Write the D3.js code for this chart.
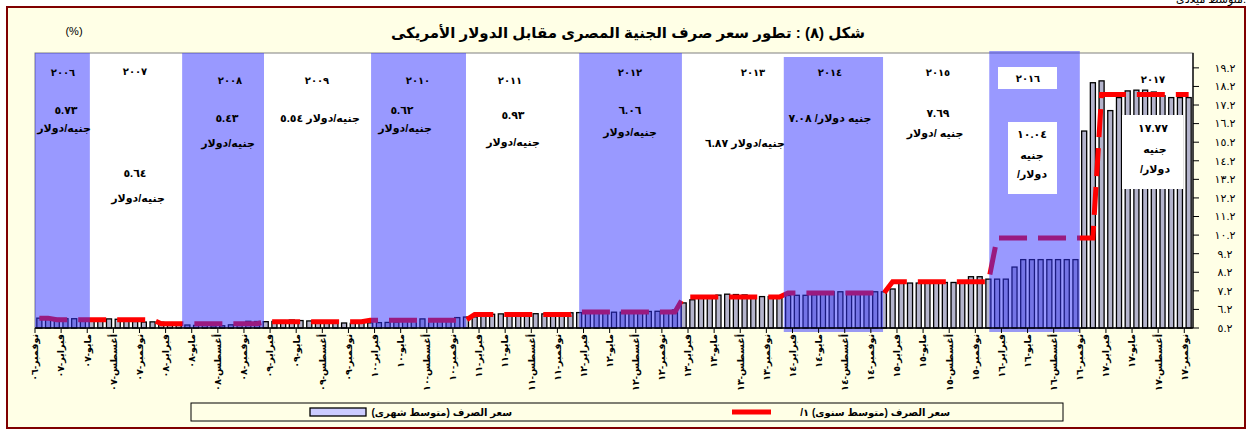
<!DOCTYPE html>
<html>
<head>
<meta charset="utf-8">
<script src="https://cdn.jsdelivr.net/npm/d3@7"></script>
<style>
  body { margin: 0; background: #ffffff; }
  text { font-family: Arial, "DejaVu Sans", sans-serif; }
</style>
</head>
<body>
<div class="chart"></div>
<script>
/* Global Constants
============================================= */
const SVG_WIDTH = 1248;
const SVG_HEIGHT = 432;

// monthly average exchange rate (EGP per USD), Nov-06 .. Nov-17
const rate2006 = [5.73, 5.72];
const rate2007 = [5.71, 5.70, 5.70, 5.69, 5.68, 5.69, 5.69, 5.67, 5.60, 5.55, 5.52, 5.53];
const rate2008 = [5.51, 5.49, 5.45, 5.36, 5.34, 5.34, 5.32, 5.32, 5.37, 5.45, 5.56, 5.55];
const rate2009 = [5.54, 5.55, 5.60, 5.63, 5.60, 5.58, 5.56, 5.54, 5.52, 5.47, 5.45, 5.48];
const rate2010 = [5.48, 5.49, 5.50, 5.52, 5.58, 5.67, 5.69, 5.69, 5.69, 5.70, 5.76, 5.79];
const rate2011 = [5.80, 5.86, 5.94, 5.96, 5.94, 5.94, 5.95, 5.97, 5.96, 5.97, 6.00, 6.02];
const rate2012 = [6.03, 6.03, 6.04, 6.04, 6.05, 6.05, 6.07, 6.09, 6.09, 6.10, 6.10, 6.17];
const rate2013 = [6.55, 6.72, 6.80, 6.89, 6.97, 7.02, 7.00, 6.98, 6.89, 6.89, 6.89, 6.93];
const rate2014 = [6.95, 6.96, 6.96, 6.99, 7.10, 7.15, 7.15, 7.15, 7.15, 7.15, 7.15, 7.15];
const rate2015 = [7.30, 7.62, 7.62, 7.62, 7.62, 7.62, 7.65, 7.65, 7.65, 7.96, 7.96, 7.83];
const rate2016 = [7.83, 7.83, 8.48, 8.88, 8.88, 8.88, 8.88, 8.88, 8.88, 8.88, 15.80, 18.40];
const rate2017 = [18.50, 16.90, 17.60, 17.96, 18.00, 18.00, 17.90, 17.70, 17.60, 17.60, 17.60];

// yearly average (annual line series)
const yearAvg = [5.73, 5.64, 5.43, 5.54, 5.62, 5.93, 6.06, 6.87, 7.08, 7.69, 10.04, 17.77];

// x tick labels, one every 3 months
const tickLabels = [
    "نوفمبر-٠٦", "فبراير-٠٧", "مايو-٠٧", "أغسطس-٠٧", "نوفمبر-٠٧",
    "فبراير-٠٨", "مايو-٠٨", "أغسطس-٠٨", "نوفمبر-٠٨",
    "فبراير-٠٩", "مايو-٠٩", "أغسطس-٠٩", "نوفمبر-٠٩",
    "فبراير-١٠", "مايو-١٠", "أغسطس-١٠", "نوفمبر-١٠",
    "فبراير-١١", "مايو-١١", "أغسطس-١١", "نوفمبر-١١",
    "فبراير-١٢", "مايو-١٢", "أغسطس-١٢", "نوفمبر-١٢",
    "فبراير-١٣", "مايو-١٣", "أغسطس-١٣", "نوفمبر-١٣",
    "فبراير-١٤", "مايو-١٤", "أغسطس-١٤", "نوفمبر-١٤",
    "فبراير-١٥", "مايو-١٥", "أغسطس-١٥", "نوفمبر-١٥",
    "فبراير-١٦", "مايو-١٦", "أغسطس-١٦", "نوفمبر-١٦",
    "فبراير-١٧", "مايو-١٧", "أغسطس-١٧", "نوفمبر-١٧"
];

// y tick values and labels
const yTicks = [5.2, 6.2, 7.2, 8.2, 9.2, 10.2, 11.2, 12.2, 13.2, 14.2, 15.2, 16.2, 17.2, 18.2, 19.2];
const yTickLabels = ["٥.٢", "٦.٢", "٧.٢", "٨.٢", "٩.٢", "١٠.٢", "١١.٢", "١٢.٢", "١٣.٢", "١٤.٢", "١٥.٢", "١٦.٢", "١٧.٢", "١٨.٢", "١٩.٢"];

const textTitle = "شكل (٨) : تطور سعر صرف الجنية المصرى مقابل الدولار الأمريكى";
const textMonthly = "سعر الصرف (متوسط شهرى)";
const textYearly = "سعر الصرف (متوسط سنوى) ١/";
const textUnit = "جنيه/دولار";

/* Layout
============================================= */
var margin = { top: 53, left: 35, right: 55, bottom: 104 };
var plotW = SVG_WIDTH - margin.left - margin.right;
var plotH = SVG_HEIGHT - margin.top - margin.bottom;

// shaded year panels, edges in month units (drawn by hand in the original)
var panelEdges = [0, 6.3, 16.9, 26.3, 38.6, 49.5, 62.5, 74.3, 86.0, 97.4, 109.6, 120, 133];

// annotations: [x, y, text, size]
var notes = [
    [63, 72, "٢٠٠٦", 10], [66, 110, "٥.٧٣", 11], [64, 128, textUnit, 11],
    [135, 71, "٢٠٠٧", 10], [135, 173, "٥.٦٤", 11], [138, 198, textUnit, 11],
    [230, 80, "٢٠٠٨", 10], [227, 118, "٥.٤٣", 11], [228, 143, textUnit, 11],
    [317, 80, "٢٠٠٩", 10], [320, 118, textUnit + " ٥.٥٤", 11],
    [418, 80, "٢٠١٠", 10], [402, 110, "٥.٦٢", 11], [405, 128, textUnit, 11],
    [510, 80, "٢٠١١", 10], [513, 115, "٥.٩٣", 11], [513, 142, textUnit, 11],
    [630, 72, "٢٠١٢", 10], [630, 110, "٦.٠٦", 11], [630, 132, textUnit, 11],
    [753, 72, "٢٠١٣", 10], [745, 143, textUnit + " ٦.٨٧", 11],
    [830, 72, "٢٠١٤", 10], [830, 118, "جنيه دولار/ ٧.٠٨", 11],
    [938, 72, "٢٠١٥", 10], [938, 113, "٧.٦٩", 11], [935, 133, "جنيه /دولار", 11],
    [1153, 79, "٢٠١٧", 10]
];

// white text boxes: [x, y, w, h]
var boxes = [[998, 67, 59, 22], [1008, 122, 49, 72], [1122, 115, 61, 74]];
var boxNotes = [
    [1028, 78, "٢٠١٦", 10], [1032, 134, "١٠.٠٤", 11], [1032, 155, "جنيه", 11], [1032, 174, "دولار/", 11],
    [1153, 128, "١٧.٧٧", 11], [1155, 149, "جنيه", 11], [1155, 169, "دولار/", 11]
];

/* Data prep
============================================= */
var yearly = [rate2006, rate2007, rate2008, rate2009, rate2010, rate2011,
              rate2012, rate2013, rate2014, rate2015, rate2016, rate2017];

var DATASET = [];
yearly.forEach(function(arr, y) {
    arr.forEach(function(v) {
        DATASET.push({ i: DATASET.length, rate: v, avg: yearAvg[y] });
    });
});

/* Chart
============================================= */
var svg = d3.select(".chart")
    .append("svg")
    .attr("width", SVG_WIDTH)
    .attr("height", SVG_HEIGHT);

// outer frame
svg.append("rect")
    .attr("x", 7).attr("y", 7)
    .attr("width", 1238).attr("height", 421)
    .attr("fill", "#FFFFE6")
    .attr("stroke", "#800000")
    .attr("stroke-width", 2);

svg.append("text")
    .attr("x", 1246).attr("y", 3)
    .attr("text-anchor", "end")
    .attr("font-size", 11)
    .text("متوسط ميلادى.");

svg.append("text")
    .attr("x", 628).attr("y", 33)
    .attr("text-anchor", "middle")
    .attr("direction", "rtl")
    .attr("dy", "0.35em")
    .attr("font-size", 15)
    .attr("font-weight", "bold")
    .text(textTitle);

svg.append("text")
    .attr("x", 74).attr("y", 31)
    .attr("text-anchor", "middle")
    .attr("dy", "0.35em")
    .attr("font-size", 11)
    .text("(%)");

var chart = svg.append("g")
    .attr("transform", `translate(${margin.left}, ${margin.top})`);

chart.append("rect")
    .attr("width", plotW).attr("height", plotH)
    .attr("fill", "#ffffff")
    .attr("stroke", "#808080");

var xBand = d3.scaleBand()
    .domain(DATASET.map(function(d) { return d.i; }))
    .range([0, plotW])
    .paddingInner(0.42)
    .paddingOuter(0.21);

var step = plotW / DATASET.length;
var xEdge = d3.scaleLinear().domain([0, DATASET.length]).range([0, plotW]);

var yLinearScale = d3.scaleLinear().domain([5.2, 20]).range([plotH, 0]);

// monthly bars
chart.append("g").selectAll("rect")
    .data(DATASET)
    .enter()
    .append("rect")
    .attr("x", function(d) { return xBand(d.i); })
    .attr("y", function(d) { return yLinearScale(d.rate); })
    .attr("width", xBand.bandwidth())
    .attr("height", function(d) { return plotH - yLinearScale(d.rate); })
    .attr("fill", "#B4B4CC")
    .attr("stroke", "#000000")
    .attr("stroke-width", 1.3);

// yearly average line
var line = d3.line()
    .x(function(d) { return xEdge(d.i + 0.5); })
    .y(function(d) { return yLinearScale(d.avg); });

chart.append("path")
    .datum(DATASET)
    .attr("d", line)
    .attr("fill", "none")
    .attr("stroke", "#FF0000")
    .attr("stroke-width", 5)
    .attr("stroke-dasharray", "28,11");

// shaded year panels laid over the bars
chart.append("g").selectAll("rect")
    .data(d3.range(0, panelEdges.length - 1, 2))
    .enter()
    .append("rect")
    .attr("x", function(k) { return xEdge(panelEdges[k]); })
    .attr("y", function(k) { return k === 10 ? -2 : (k === 8 ? 4 : 0); })
    .attr("width", function(k) { return xEdge(panelEdges[k + 1]) - xEdge(panelEdges[k]); })
    .attr("height", function(k) { return k === 10 || k === 8 ? plotH + 4 - (k === 8 ? 4 : -2) : plotH; })
    .attr("fill", "rgba(51, 51, 255, 0.5)");

// x axis
chart.append("line")
    .attr("x1", 0).attr("x2", plotW)
    .attr("y1", plotH).attr("y2", plotH)
    .attr("stroke", "#000").attr("stroke-width", 1.3);

var xTicks = chart.append("g").selectAll("g")
    .data(tickLabels)
    .enter()
    .append("g")
    .attr("transform", function(d, k) { return `translate(${xEdge(k * 3)}, ${plotH})`; });

xTicks.append("line")
    .attr("y2", 5)
    .attr("stroke", "#000");

xTicks.append("text")
    .attr("transform", "translate(0, 6) rotate(-90)")
    .attr("text-anchor", "end")
    .attr("dy", "0.35em")
    .attr("font-size", 9.5)
    .attr("font-weight", "bold")
    .text(function(d) { return d; });

// y axis (right)
chart.append("line")
    .attr("x1", plotW).attr("x2", plotW)
    .attr("y1", 0).attr("y2", plotH)
    .attr("stroke", "#000").attr("stroke-width", 1.3);

var yTickG = chart.append("g").selectAll("g")
    .data(yTicks)
    .enter()
    .append("g")
    .attr("transform", function(d) { return `translate(${plotW}, ${yLinearScale(d)})`; });

yTickG.append("line")
    .attr("x2", 6)
    .attr("stroke", "#000");

yTickG.append("text")
    .attr("x", 32)
    .attr("dy", "0.35em")
    .attr("text-anchor", "middle")
    .attr("font-size", 11)
    .text(function(d, k) { return yTickLabels[k]; });

// annotations
function drawNotes(list) {
    svg.append("g").selectAll("text")
        .data(list)
        .enter()
        .append("text")
        .attr("x", function(d) { return d[0]; })
        .attr("y", function(d) { return d[1]; })
        .attr("dy", "0.35em")
        .attr("text-anchor", "middle")
        .attr("direction", "rtl")
        .attr("font-size", function(d) { return d[3]; })
        .attr("font-weight", "bold")
        .text(function(d) { return d[2]; });
}

drawNotes(notes);

svg.append("g").selectAll("rect")
    .data(boxes)
    .enter()
    .append("rect")
    .attr("x", function(d) { return d[0]; })
    .attr("y", function(d) { return d[1]; })
    .attr("width", function(d) { return d[2]; })
    .attr("height", function(d) { return d[3]; })
    .attr("fill", "#ffffff");

drawNotes(boxNotes);

// legend
var legend = svg.append("g");

legend.append("rect")
    .attr("x", 191).attr("y", 403)
    .attr("width", 872).attr("height", 18)
    .attr("fill", "#FFFFE6")
    .attr("stroke", "#000");

legend.append("rect")
    .attr("x", 310).attr("y", 408)
    .attr("width", 56).attr("height", 8)
    .attr("fill", "#CCCCFF")
    .attr("stroke", "#000")
    .attr("stroke-width", 1.3);

legend.append("text")
    .attr("x", 512).attr("y", 412)
    .attr("dy", "0.35em")
    .attr("text-anchor", "end")
    .attr("font-size", 10)
    .attr("font-weight", "bold")
    .text(textMonthly);

legend.append("line")
    .attr("x1", 732).attr("x2", 771)
    .attr("y1", 412).attr("y2", 412)
    .attr("stroke", "#FF0000")
    .attr("stroke-width", 5);

legend.append("text")
    .attr("x", 950).attr("y", 412)
    .attr("dy", "0.35em")
    .attr("text-anchor", "start")
    .attr("direction", "rtl")
    .attr("font-size", 10)
    .attr("font-weight", "bold")
    .text(textYearly);
</script>
</body>
</html>
